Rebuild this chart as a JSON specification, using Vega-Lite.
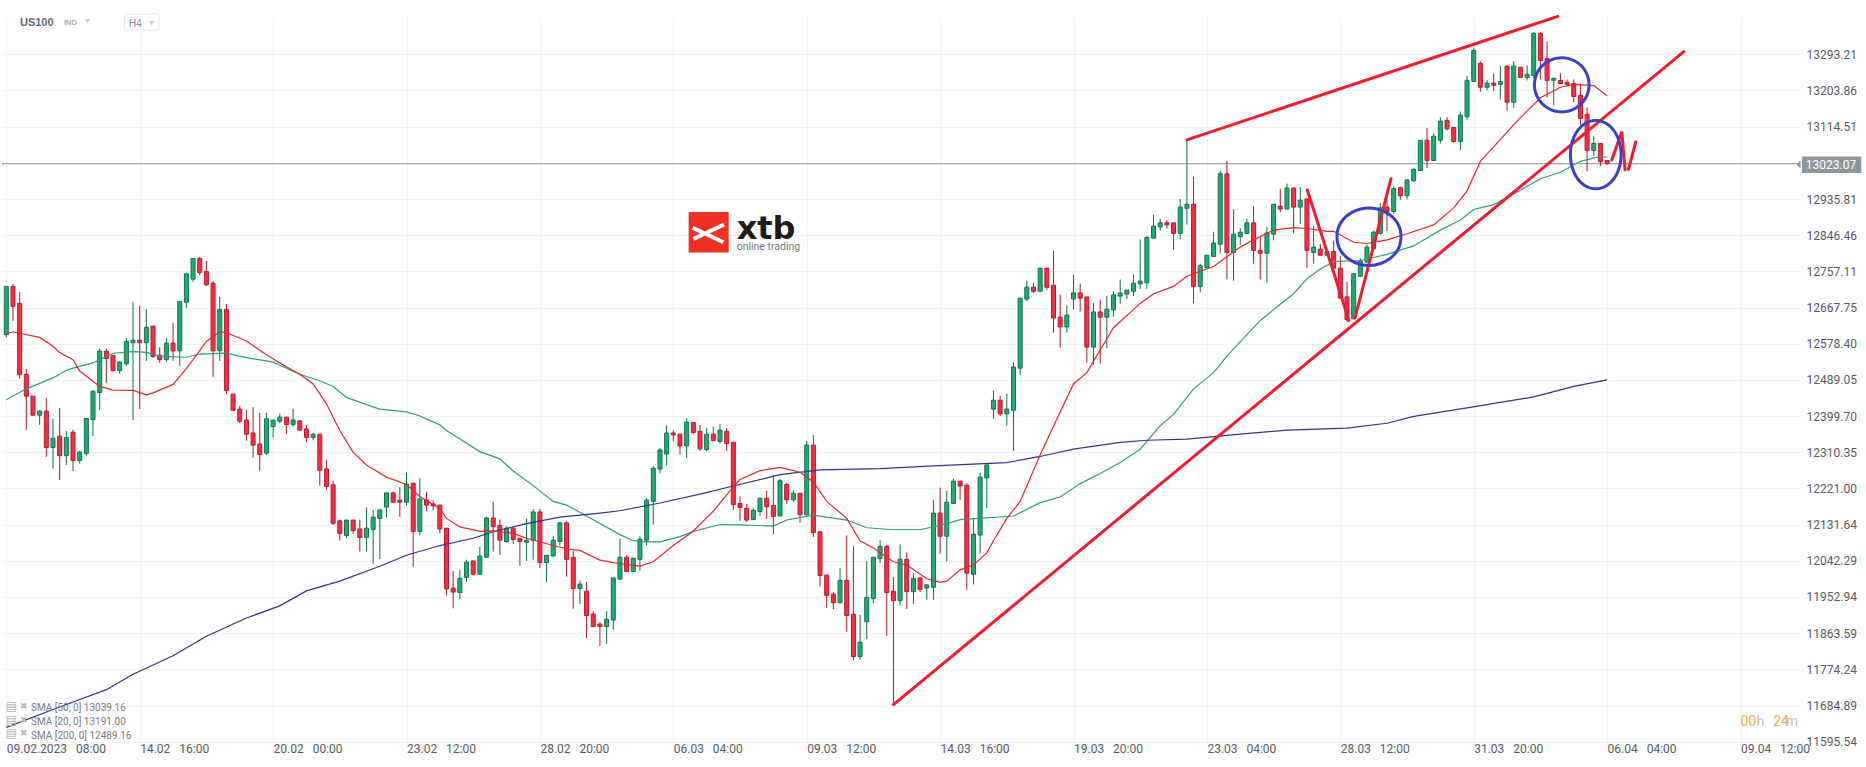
{
"$schema":"https://vega.github.io/schema/vega-lite/v6.json",
"autosize":{"type":"none"},
"width":1798,"height":723.7,
"padding":{"left":2,"right":66,"top":18,"bottom":25.3},
"background":"white",
"config":{"view":{"stroke":null},"scale":{"continuousPadding":0}},
"datasets":{
"candles":[
{"idx":0,"open":12601,"high":12720,"low":12594,"close":12720,"dir":"up"},
{"idx":1,"open":12720,"high":12726,"low":12635,"close":12671,"dir":"down"},
{"idx":2,"open":12678,"high":12706,"low":12492,"close":12502,"dir":"down"},
{"idx":3,"open":12503,"high":12516,"low":12366,"close":12449,"dir":"down"},
{"idx":4,"open":12449,"high":12449,"low":12402,"close":12402,"dir":"down"},
{"idx":5,"open":12402,"high":12414,"low":12378,"close":12412,"dir":"up"},
{"idx":6,"open":12412,"high":12444,"low":12299,"close":12322,"dir":"down"},
{"idx":7,"open":12322,"high":12393,"low":12270,"close":12345,"dir":"up"},
{"idx":8,"open":12350,"high":12420,"low":12242,"close":12302,"dir":"down"},
{"idx":9,"open":12302,"high":12363,"low":12279,"close":12347,"dir":"up"},
{"idx":10,"open":12360,"high":12366,"low":12264,"close":12290,"dir":"down"},
{"idx":11,"open":12290,"high":12314,"low":12282,"close":12311,"dir":"up"},
{"idx":12,"open":12307,"high":12394,"low":12302,"close":12394,"dir":"up"},
{"idx":13,"open":12391,"high":12463,"low":12351,"close":12461,"dir":"up"},
{"idx":14,"open":12458,"high":12566,"low":12415,"close":12560,"dir":"up"},
{"idx":15,"open":12560,"high":12566,"low":12482,"close":12542,"dir":"down"},
{"idx":16,"open":12550,"high":12550,"low":12510,"close":12512,"dir":"down"},
{"idx":17,"open":12512,"high":12536,"low":12504,"close":12533,"dir":"up"},
{"idx":18,"open":12529,"high":12592,"low":12524,"close":12584,"dir":"up"},
{"idx":19,"open":12581,"high":12682,"low":12390,"close":12587,"dir":"up"},
{"idx":20,"open":12587,"high":12672,"low":12417,"close":12581,"dir":"down"},
{"idx":21,"open":12581,"high":12664,"low":12536,"close":12619,"dir":"up"},
{"idx":22,"open":12622,"high":12622,"low":12543,"close":12547,"dir":"down"},
{"idx":23,"open":12550,"high":12570,"low":12531,"close":12539,"dir":"down"},
{"idx":24,"open":12539,"high":12592,"low":12533,"close":12580,"dir":"up"},
{"idx":25,"open":12580,"high":12630,"low":12536,"close":12561,"dir":"down"},
{"idx":26,"open":12561,"high":12683,"low":12524,"close":12683,"dir":"up"},
{"idx":27,"open":12681,"high":12754,"low":12667,"close":12751,"dir":"up"},
{"idx":28,"open":12738,"high":12789,"low":12731,"close":12789,"dir":"up"},
{"idx":29,"open":12789,"high":12793,"low":12748,"close":12754,"dir":"down"},
{"idx":30,"open":12757,"high":12783,"low":12721,"close":12724,"dir":"down"},
{"idx":31,"open":12728,"high":12733,"low":12496,"close":12561,"dir":"down"},
{"idx":32,"open":12561,"high":12694,"low":12536,"close":12663,"dir":"up"},
{"idx":33,"open":12663,"high":12677,"low":12454,"close":12463,"dir":"down"},
{"idx":34,"open":12454,"high":12454,"low":12414,"close":12414,"dir":"down"},
{"idx":35,"open":12417,"high":12425,"low":12382,"close":12387,"dir":"down"},
{"idx":36,"open":12390,"high":12416,"low":12339,"close":12355,"dir":"down"},
{"idx":37,"open":12358,"high":12422,"low":12297,"close":12328,"dir":"down"},
{"idx":38,"open":12331,"high":12408,"low":12265,"close":12305,"dir":"down"},
{"idx":39,"open":12308,"high":12408,"low":12304,"close":12393,"dir":"up"},
{"idx":40,"open":12374,"high":12390,"low":12347,"close":12390,"dir":"up"},
{"idx":41,"open":12387,"high":12406,"low":12383,"close":12397,"dir":"up"},
{"idx":42,"open":12397,"high":12397,"low":12355,"close":12379,"dir":"down"},
{"idx":43,"open":12379,"high":12418,"low":12374,"close":12390,"dir":"up"},
{"idx":44,"open":12388,"high":12388,"low":12365,"close":12365,"dir":"down"},
{"idx":45,"open":12368,"high":12378,"low":12335,"close":12347,"dir":"down"},
{"idx":46,"open":12347,"high":12358,"low":12340,"close":12355,"dir":"up"},
{"idx":47,"open":12355,"high":12355,"low":12228,"close":12266,"dir":"down"},
{"idx":48,"open":12269,"high":12292,"low":12218,"close":12226,"dir":"down"},
{"idx":49,"open":12230,"high":12240,"low":12131,"close":12135,"dir":"down"},
{"idx":50,"open":12141,"high":12144,"low":12092,"close":12110,"dir":"down"},
{"idx":51,"open":12105,"high":12143,"low":12099,"close":12143,"dir":"up"},
{"idx":52,"open":12143,"high":12143,"low":12109,"close":12117,"dir":"down"},
{"idx":53,"open":12121,"high":12144,"low":12065,"close":12100,"dir":"down"},
{"idx":54,"open":12100,"high":12174,"low":12065,"close":12123,"dir":"up"},
{"idx":55,"open":12120,"high":12168,"low":12035,"close":12150,"dir":"up"},
{"idx":56,"open":12147,"high":12168,"low":12047,"close":12168,"dir":"up"},
{"idx":57,"open":12175,"high":12210,"low":12150,"close":12210,"dir":"up"},
{"idx":58,"open":12210,"high":12213,"low":12187,"close":12187,"dir":"down"},
{"idx":59,"open":12192,"high":12225,"low":12151,"close":12187,"dir":"down"},
{"idx":60,"open":12187,"high":12260,"low":12179,"close":12232,"dir":"up"},
{"idx":61,"open":12234,"high":12234,"low":12028,"close":12115,"dir":"down"},
{"idx":62,"open":12115,"high":12247,"low":12105,"close":12195,"dir":"up"},
{"idx":63,"open":12192,"high":12212,"low":12165,"close":12180,"dir":"down"},
{"idx":64,"open":12183,"high":12192,"low":12167,"close":12178,"dir":"down"},
{"idx":65,"open":12180,"high":12180,"low":12110,"close":12121,"dir":"down"},
{"idx":66,"open":12123,"high":12123,"low":11957,"close":11973,"dir":"down"},
{"idx":67,"open":11975,"high":12017,"low":11925,"close":11965,"dir":"down"},
{"idx":68,"open":11964,"high":12019,"low":11948,"close":11999,"dir":"up"},
{"idx":69,"open":12001,"high":12045,"low":11990,"close":12039,"dir":"up"},
{"idx":70,"open":12042,"high":12042,"low":12006,"close":12009,"dir":"down"},
{"idx":71,"open":12009,"high":12077,"low":12009,"close":12054,"dir":"up"},
{"idx":72,"open":12051,"high":12151,"low":12051,"close":12148,"dir":"up"},
{"idx":73,"open":12148,"high":12188,"low":12065,"close":12127,"dir":"down"},
{"idx":74,"open":12130,"high":12144,"low":12057,"close":12093,"dir":"down"},
{"idx":75,"open":12090,"high":12127,"low":12087,"close":12123,"dir":"up"},
{"idx":76,"open":12123,"high":12123,"low":12084,"close":12095,"dir":"down"},
{"idx":77,"open":12098,"high":12098,"low":12030,"close":12090,"dir":"down"},
{"idx":78,"open":12088,"high":12146,"low":12042,"close":12093,"dir":"up"},
{"idx":79,"open":12093,"high":12170,"low":12045,"close":12163,"dir":"up"},
{"idx":80,"open":12163,"high":12170,"low":12025,"close":12038,"dir":"down"},
{"idx":81,"open":12038,"high":12056,"low":11990,"close":12056,"dir":"up"},
{"idx":82,"open":12054,"high":12104,"low":12054,"close":12093,"dir":"up"},
{"idx":83,"open":12090,"high":12138,"low":12080,"close":12136,"dir":"up"},
{"idx":84,"open":12136,"high":12140,"low":12003,"close":12046,"dir":"down"},
{"idx":85,"open":12051,"high":12067,"low":11924,"close":11974,"dir":"down"},
{"idx":86,"open":11974,"high":11993,"low":11936,"close":11985,"dir":"up"},
{"idx":87,"open":11967,"high":11990,"low":11852,"close":11907,"dir":"down"},
{"idx":88,"open":11911,"high":11918,"low":11878,"close":11880,"dir":"down"},
{"idx":89,"open":11886,"high":11891,"low":11832,"close":11880,"dir":"down"},
{"idx":90,"open":11880,"high":11918,"low":11837,"close":11898,"dir":"up"},
{"idx":91,"open":11896,"high":12000,"low":11872,"close":12000,"dir":"up"},
{"idx":92,"open":11997,"high":12097,"low":11997,"close":12051,"dir":"up"},
{"idx":93,"open":12051,"high":12056,"low":12014,"close":12016,"dir":"down"},
{"idx":94,"open":12016,"high":12049,"low":12014,"close":12049,"dir":"up"},
{"idx":95,"open":12046,"high":12103,"low":12018,"close":12096,"dir":"up"},
{"idx":96,"open":12093,"high":12197,"low":12080,"close":12192,"dir":"up"},
{"idx":97,"open":12189,"high":12276,"low":12132,"close":12271,"dir":"up"},
{"idx":98,"open":12269,"high":12321,"low":12258,"close":12316,"dir":"up"},
{"idx":99,"open":12306,"high":12377,"low":12278,"close":12358,"dir":"up"},
{"idx":100,"open":12358,"high":12365,"low":12338,"close":12353,"dir":"down"},
{"idx":101,"open":12355,"high":12355,"low":12305,"close":12326,"dir":"down"},
{"idx":102,"open":12326,"high":12395,"low":12296,"close":12385,"dir":"up"},
{"idx":103,"open":12384,"high":12384,"low":12354,"close":12359,"dir":"down"},
{"idx":104,"open":12362,"high":12378,"low":12314,"close":12319,"dir":"down"},
{"idx":105,"open":12317,"high":12370,"low":12312,"close":12355,"dir":"up"},
{"idx":106,"open":12355,"high":12373,"low":12339,"close":12339,"dir":"down"},
{"idx":107,"open":12337,"high":12380,"low":12332,"close":12365,"dir":"up"},
{"idx":108,"open":12362,"high":12370,"low":12314,"close":12332,"dir":"down"},
{"idx":109,"open":12335,"high":12335,"low":12168,"close":12181,"dir":"down"},
{"idx":110,"open":12184,"high":12202,"low":12141,"close":12174,"dir":"down"},
{"idx":111,"open":12172,"high":12183,"low":12138,"close":12143,"dir":"down"},
{"idx":112,"open":12144,"high":12172,"low":12144,"close":12167,"dir":"up"},
{"idx":113,"open":12164,"high":12197,"low":12153,"close":12197,"dir":"up"},
{"idx":114,"open":12197,"high":12215,"low":12146,"close":12176,"dir":"down"},
{"idx":115,"open":12179,"high":12254,"low":12109,"close":12152,"dir":"down"},
{"idx":116,"open":12153,"high":12244,"low":12153,"close":12240,"dir":"up"},
{"idx":117,"open":12231,"high":12235,"low":12183,"close":12193,"dir":"down"},
{"idx":118,"open":12193,"high":12217,"low":12188,"close":12209,"dir":"up"},
{"idx":119,"open":12209,"high":12209,"low":12136,"close":12156,"dir":"down"},
{"idx":120,"open":12156,"high":12338,"low":12156,"close":12328,"dir":"up"},
{"idx":121,"open":12328,"high":12353,"low":12101,"close":12112,"dir":"down"},
{"idx":122,"open":12114,"high":12114,"low":11979,"close":12006,"dir":"down"},
{"idx":123,"open":12007,"high":12007,"low":11926,"close":11957,"dir":"down"},
{"idx":124,"open":11960,"high":11965,"low":11923,"close":11939,"dir":"down"},
{"idx":125,"open":11939,"high":12024,"low":11937,"close":11994,"dir":"up"},
{"idx":126,"open":11994,"high":12105,"low":11867,"close":11907,"dir":"down"},
{"idx":127,"open":11910,"high":12078,"low":11796,"close":11806,"dir":"down"},
{"idx":128,"open":11806,"high":11909,"low":11798,"close":11841,"dir":"up"},
{"idx":129,"open":11892,"high":12041,"low":11849,"close":11952,"dir":"up"},
{"idx":130,"open":11949,"high":12051,"low":11937,"close":12051,"dir":"up"},
{"idx":131,"open":12048,"high":12093,"low":12037,"close":12078,"dir":"up"},
{"idx":132,"open":12078,"high":12081,"low":11857,"close":11964,"dir":"down"},
{"idx":133,"open":11967,"high":12002,"low":11690,"close":11944,"dir":"down"},
{"idx":134,"open":11944,"high":12083,"low":11932,"close":12046,"dir":"up"},
{"idx":135,"open":12046,"high":12063,"low":11923,"close":11966,"dir":"down"},
{"idx":136,"open":11966,"high":12012,"low":11936,"close":11999,"dir":"up"},
{"idx":137,"open":12000,"high":12000,"low":11965,"close":11972,"dir":"down"},
{"idx":138,"open":11975,"high":11983,"low":11946,"close":11983,"dir":"up"},
{"idx":139,"open":11977,"high":12193,"low":11946,"close":12160,"dir":"up"},
{"idx":140,"open":12160,"high":12223,"low":12060,"close":12103,"dir":"down"},
{"idx":141,"open":12103,"high":12215,"low":12040,"close":12187,"dir":"up"},
{"idx":142,"open":12184,"high":12245,"low":12184,"close":12239,"dir":"up"},
{"idx":143,"open":12239,"high":12239,"low":12193,"close":12227,"dir":"down"},
{"idx":144,"open":12229,"high":12234,"low":11971,"close":12012,"dir":"down"},
{"idx":145,"open":12009,"high":12148,"low":11984,"close":12108,"dir":"up"},
{"idx":146,"open":12106,"high":12259,"low":12060,"close":12249,"dir":"up"},
{"idx":147,"open":12247,"high":12279,"low":12173,"close":12279,"dir":"up"},
{"idx":148,"open":12417,"high":12462,"low":12393,"close":12439,"dir":"up"},
{"idx":149,"open":12439,"high":12450,"low":12400,"close":12405,"dir":"down"},
{"idx":150,"open":12405,"high":12455,"low":12376,"close":12417,"dir":"up"},
{"idx":151,"open":12414,"high":12533,"low":12314,"close":12521,"dir":"up"},
{"idx":152,"open":12518,"high":12691,"low":12502,"close":12691,"dir":"up"},
{"idx":153,"open":12689,"high":12734,"low":12684,"close":12718,"dir":"up"},
{"idx":154,"open":12718,"high":12729,"low":12704,"close":12708,"dir":"down"},
{"idx":155,"open":12708,"high":12765,"low":12708,"close":12765,"dir":"up"},
{"idx":156,"open":12765,"high":12765,"low":12711,"close":12718,"dir":"down"},
{"idx":157,"open":12723,"high":12808,"low":12606,"close":12642,"dir":"down"},
{"idx":158,"open":12644,"high":12700,"low":12569,"close":12620,"dir":"down"},
{"idx":159,"open":12620,"high":12672,"low":12606,"close":12649,"dir":"up"},
{"idx":160,"open":12689,"high":12749,"low":12663,"close":12704,"dir":"up"},
{"idx":161,"open":12704,"high":12727,"low":12658,"close":12691,"dir":"down"},
{"idx":162,"open":12694,"high":12694,"low":12532,"close":12570,"dir":"down"},
{"idx":163,"open":12570,"high":12679,"low":12527,"close":12657,"dir":"up"},
{"idx":164,"open":12657,"high":12687,"low":12529,"close":12644,"dir":"down"},
{"idx":165,"open":12644,"high":12697,"low":12567,"close":12664,"dir":"up"},
{"idx":166,"open":12662,"high":12707,"low":12645,"close":12699,"dir":"up"},
{"idx":167,"open":12696,"high":12737,"low":12677,"close":12704,"dir":"up"},
{"idx":168,"open":12701,"high":12711,"low":12689,"close":12711,"dir":"up"},
{"idx":169,"open":12708,"high":12749,"low":12696,"close":12728,"dir":"up"},
{"idx":170,"open":12726,"high":12836,"low":12714,"close":12733,"dir":"up"},
{"idx":171,"open":12729,"high":12844,"low":12714,"close":12841,"dir":"up"},
{"idx":172,"open":12839,"high":12897,"low":12839,"close":12869,"dir":"up"},
{"idx":173,"open":12867,"high":12887,"low":12858,"close":12877,"dir":"up"},
{"idx":174,"open":12877,"high":12884,"low":12863,"close":12872,"dir":"down"},
{"idx":175,"open":12877,"high":12877,"low":12811,"close":12851,"dir":"down"},
{"idx":176,"open":12851,"high":12936,"low":12836,"close":12916,"dir":"up"},
{"idx":177,"open":12913,"high":13082,"low":12873,"close":12923,"dir":"up"},
{"idx":178,"open":12923,"high":12991,"low":12678,"close":12720,"dir":"down"},
{"idx":179,"open":12720,"high":12776,"low":12705,"close":12771,"dir":"up"},
{"idx":180,"open":12766,"high":12797,"low":12766,"close":12797,"dir":"up"},
{"idx":181,"open":12794,"high":12855,"low":12794,"close":12827,"dir":"up"},
{"idx":182,"open":12824,"high":13005,"low":12801,"close":12998,"dir":"up"},
{"idx":183,"open":12998,"high":13030,"low":12737,"close":12804,"dir":"down"},
{"idx":184,"open":12804,"high":12911,"low":12734,"close":12849,"dir":"up"},
{"idx":185,"open":12843,"high":12864,"low":12823,"close":12854,"dir":"up"},
{"idx":186,"open":12851,"high":12887,"low":12851,"close":12877,"dir":"up"},
{"idx":187,"open":12877,"high":12918,"low":12776,"close":12809,"dir":"down"},
{"idx":188,"open":12809,"high":12844,"low":12737,"close":12802,"dir":"down"},
{"idx":189,"open":12802,"high":12867,"low":12729,"close":12852,"dir":"up"},
{"idx":190,"open":12849,"high":12923,"low":12834,"close":12923,"dir":"up"},
{"idx":191,"open":12918,"high":12961,"low":12903,"close":12911,"dir":"down"},
{"idx":192,"open":12911,"high":12974,"low":12911,"close":12963,"dir":"up"},
{"idx":193,"open":12963,"high":12963,"low":12851,"close":12916,"dir":"down"},
{"idx":194,"open":12916,"high":12965,"low":12874,"close":12933,"dir":"up"},
{"idx":195,"open":12936,"high":12936,"low":12766,"close":12809,"dir":"down"},
{"idx":196,"open":12804,"high":12869,"low":12776,"close":12817,"dir":"up"},
{"idx":197,"open":12812,"high":12825,"low":12797,"close":12797,"dir":"down"},
{"idx":198,"open":12797,"high":12806,"low":12797,"close":12806,"dir":"up"},
{"idx":199,"open":12806,"high":12833,"low":12765,"close":12765,"dir":"down"},
{"idx":200,"open":12765,"high":12796,"low":12691,"close":12691,"dir":"down"},
{"idx":201,"open":12694,"high":12731,"low":12632,"close":12638,"dir":"down"},
{"idx":202,"open":12640,"high":12753,"low":12640,"close":12751,"dir":"up"},
{"idx":203,"open":12745,"high":12790,"low":12745,"close":12783,"dir":"up"},
{"idx":204,"open":12780,"high":12823,"low":12780,"close":12817,"dir":"up"},
{"idx":205,"open":12813,"high":12858,"low":12813,"close":12854,"dir":"up"},
{"idx":206,"open":12851,"high":12926,"low":12848,"close":12914,"dir":"up"},
{"idx":207,"open":12916,"high":12934,"low":12857,"close":12905,"dir":"down"},
{"idx":208,"open":12905,"high":12967,"low":12900,"close":12962,"dir":"up"},
{"idx":209,"open":12964,"high":12966,"low":12934,"close":12944,"dir":"down"},
{"idx":210,"open":12944,"high":12985,"low":12935,"close":12983,"dir":"up"},
{"idx":211,"open":12981,"high":13012,"low":12978,"close":13009,"dir":"up"},
{"idx":212,"open":13006,"high":13081,"low":13006,"close":13081,"dir":"up"},
{"idx":213,"open":13081,"high":13111,"low":13012,"close":13031,"dir":"down"},
{"idx":214,"open":13031,"high":13098,"low":13031,"close":13091,"dir":"up"},
{"idx":215,"open":13081,"high":13138,"low":13073,"close":13128,"dir":"up"},
{"idx":216,"open":13130,"high":13138,"low":13105,"close":13109,"dir":"down"},
{"idx":217,"open":13113,"high":13113,"low":13075,"close":13078,"dir":"down"},
{"idx":218,"open":13078,"high":13152,"low":13057,"close":13143,"dir":"up"},
{"idx":219,"open":13139,"high":13240,"low":13132,"close":13229,"dir":"up"},
{"idx":220,"open":13226,"high":13310,"low":13226,"close":13303,"dir":"up"},
{"idx":221,"open":13271,"high":13276,"low":13201,"close":13212,"dir":"down"},
{"idx":222,"open":13212,"high":13229,"low":13204,"close":13222,"dir":"up"},
{"idx":223,"open":13222,"high":13246,"low":13203,"close":13217,"dir":"down"},
{"idx":224,"open":13219,"high":13264,"low":13182,"close":13226,"dir":"up"},
{"idx":225,"open":13264,"high":13266,"low":13154,"close":13175,"dir":"down"},
{"idx":226,"open":13175,"high":13276,"low":13161,"close":13264,"dir":"up"},
{"idx":227,"open":13261,"high":13261,"low":13236,"close":13236,"dir":"down"},
{"idx":228,"open":13236,"high":13266,"low":13229,"close":13244,"dir":"up"},
{"idx":229,"open":13241,"high":13348,"low":13234,"close":13345,"dir":"up"},
{"idx":230,"open":13345,"high":13348,"low":13231,"close":13278,"dir":"down"},
{"idx":231,"open":13283,"high":13325,"low":13187,"close":13229,"dir":"down"},
{"idx":232,"open":13229,"high":13236,"low":13168,"close":13234,"dir":"up"},
{"idx":233,"open":13229,"high":13246,"low":13221,"close":13221,"dir":"down"},
{"idx":234,"open":13224,"high":13231,"low":13216,"close":13219,"dir":"down"},
{"idx":235,"open":13221,"high":13231,"low":13175,"close":13189,"dir":"down"},
{"idx":236,"open":13192,"high":13221,"low":13119,"close":13135,"dir":"down"},
{"idx":237,"open":13145,"high":13162,"low":13004,"close":13056,"dir":"down"},
{"idx":238,"open":13056,"high":13091,"low":13042,"close":13073,"dir":"up"},
{"idx":239,"open":13073,"high":13073,"low":13018,"close":13028,"dir":"down"},
{"idx":240,"open":13031,"high":13031,"low":13021,"close":13023,"dir":"down"}
],
"sma":[
{"series":"SMA20","idx":0,"price":12603},{"series":"SMA20","idx":1,"price":12608},{"series":"SMA20","idx":5,"price":12594},{"series":"SMA20","idx":7,"price":12572},{"series":"SMA20","idx":8,"price":12557},{"series":"SMA20","idx":10,"price":12539},{"series":"SMA20","idx":11,"price":12511},{"series":"SMA20","idx":14,"price":12473},{"series":"SMA20","idx":16,"price":12464},{"series":"SMA20","idx":19,"price":12463},{"series":"SMA20","idx":21,"price":12452},{"series":"SMA20","idx":22,"price":12457},{"series":"SMA20","idx":25,"price":12478},{"series":"SMA20","idx":27,"price":12517},{"series":"SMA20","idx":30,"price":12584},{"series":"SMA20","idx":32,"price":12608},{"series":"SMA20","idx":33,"price":12606},{"series":"SMA20","idx":36,"price":12585},{"series":"SMA20","idx":39,"price":12551},{"series":"SMA20","idx":41,"price":12531},{"series":"SMA20","idx":44,"price":12503},{"series":"SMA20","idx":46,"price":12479},{"series":"SMA20","idx":48,"price":12430},{"series":"SMA20","idx":50,"price":12364},{"series":"SMA20","idx":52,"price":12310},{"series":"SMA20","idx":54,"price":12279},{"series":"SMA20","idx":57,"price":12249},{"series":"SMA20","idx":60,"price":12231},{"series":"SMA20","idx":62,"price":12201},{"series":"SMA20","idx":65,"price":12171},{"series":"SMA20","idx":66,"price":12147},{"series":"SMA20","idx":68,"price":12126},{"series":"SMA20","idx":71,"price":12115},{"series":"SMA20","idx":73,"price":12116},{"series":"SMA20","idx":76,"price":12110},{"series":"SMA20","idx":78,"price":12098},{"series":"SMA20","idx":82,"price":12080},{"series":"SMA20","idx":84,"price":12072},{"series":"SMA20","idx":86,"price":12068},{"series":"SMA20","idx":89,"price":12044},{"series":"SMA20","idx":92,"price":12035},{"series":"SMA20","idx":95,"price":12029},{"series":"SMA20","idx":97,"price":12040},{"series":"SMA20","idx":100,"price":12080},{"series":"SMA20","idx":103,"price":12116},{"series":"SMA20","idx":106,"price":12165},{"series":"SMA20","idx":109,"price":12225},{"series":"SMA20","idx":110,"price":12243},{"series":"SMA20","idx":113,"price":12265},{"series":"SMA20","idx":116,"price":12273},{"series":"SMA20","idx":119,"price":12261},{"series":"SMA20","idx":121,"price":12237},{"series":"SMA20","idx":123,"price":12189},{"series":"SMA20","idx":126,"price":12147},{"series":"SMA20","idx":128,"price":12092},{"series":"SMA20","idx":130,"price":12074},{"series":"SMA20","idx":133,"price":12040},{"series":"SMA20","idx":135,"price":12032},{"series":"SMA20","idx":138,"price":11998},{"series":"SMA20","idx":140,"price":11989},{"series":"SMA20","idx":141,"price":11992},{"series":"SMA20","idx":143,"price":12020},{"series":"SMA20","idx":145,"price":12032},{"series":"SMA20","idx":147,"price":12062},{"series":"SMA20","idx":148,"price":12092},{"series":"SMA20","idx":150,"price":12147},{"series":"SMA20","idx":152,"price":12189},{"series":"SMA20","idx":155,"price":12304},{"series":"SMA20","idx":158,"price":12410},{"series":"SMA20","idx":160,"price":12479},{"series":"SMA20","idx":162,"price":12507},{"series":"SMA20","idx":164,"price":12563},{"series":"SMA20","idx":166,"price":12618},{"series":"SMA20","idx":170,"price":12678},{"series":"SMA20","idx":172,"price":12702},{"series":"SMA20","idx":175,"price":12720},{"series":"SMA20","idx":177,"price":12745},{"series":"SMA20","idx":181,"price":12769},{"series":"SMA20","idx":183,"price":12793},{"series":"SMA20","idx":185,"price":12817},{"series":"SMA20","idx":187,"price":12835},{"series":"SMA20","idx":190,"price":12859},{"series":"SMA20","idx":193,"price":12865},{"series":"SMA20","idx":195,"price":12863},{"series":"SMA20","idx":198,"price":12856},{"series":"SMA20","idx":199,"price":12856},{"series":"SMA20","idx":202,"price":12829},{"series":"SMA20","idx":204,"price":12826},{"series":"SMA20","idx":207,"price":12835},{"series":"SMA20","idx":210,"price":12850},{"series":"SMA20","idx":214,"price":12872},{"series":"SMA20","idx":217,"price":12914},{"series":"SMA20","idx":219,"price":12956},{"series":"SMA20","idx":221,"price":13029},{"series":"SMA20","idx":224,"price":13083},{"series":"SMA20","idx":227,"price":13137},{"series":"SMA20","idx":230,"price":13186},{"series":"SMA20","idx":233,"price":13212},{"series":"SMA20","idx":235,"price":13219},{"series":"SMA20","idx":238,"price":13216},{"series":"SMA20","idx":240,"price":13191},
{"series":"SMA50","idx":0,"price":12440},{"series":"SMA50","idx":3,"price":12467},{"series":"SMA50","idx":7,"price":12494},{"series":"SMA50","idx":9,"price":12513},{"series":"SMA50","idx":10,"price":12518},{"series":"SMA50","idx":13,"price":12531},{"series":"SMA50","idx":16,"price":12555},{"series":"SMA50","idx":19,"price":12559},{"series":"SMA50","idx":21,"price":12557},{"series":"SMA50","idx":23,"price":12548},{"series":"SMA50","idx":27,"price":12545},{"series":"SMA50","idx":29,"price":12553},{"series":"SMA50","idx":33,"price":12555},{"series":"SMA50","idx":36,"price":12544},{"series":"SMA50","idx":40,"price":12533},{"series":"SMA50","idx":44,"price":12503},{"series":"SMA50","idx":47,"price":12487},{"series":"SMA50","idx":49,"price":12473},{"series":"SMA50","idx":51,"price":12446},{"series":"SMA50","idx":54,"price":12428},{"series":"SMA50","idx":56,"price":12417},{"series":"SMA50","idx":60,"price":12410},{"series":"SMA50","idx":62,"price":12400},{"series":"SMA50","idx":65,"price":12378},{"series":"SMA50","idx":66,"price":12364},{"series":"SMA50","idx":68,"price":12343},{"series":"SMA50","idx":71,"price":12312},{"series":"SMA50","idx":74,"price":12294},{"series":"SMA50","idx":76,"price":12264},{"series":"SMA50","idx":79,"price":12228},{"series":"SMA50","idx":82,"price":12189},{"series":"SMA50","idx":84,"price":12180},{"series":"SMA50","idx":87,"price":12153},{"series":"SMA50","idx":92,"price":12107},{"series":"SMA50","idx":94,"price":12092},{"series":"SMA50","idx":96,"price":12089},{"series":"SMA50","idx":98,"price":12089},{"series":"SMA50","idx":101,"price":12102},{"series":"SMA50","idx":103,"price":12115},{"series":"SMA50","idx":107,"price":12132},{"series":"SMA50","idx":110,"price":12131},{"series":"SMA50","idx":115,"price":12128},{"series":"SMA50","idx":117,"price":12143},{"series":"SMA50","idx":121,"price":12155},{"series":"SMA50","idx":126,"price":12143},{"series":"SMA50","idx":129,"price":12124},{"series":"SMA50","idx":133,"price":12119},{"series":"SMA50","idx":137,"price":12119},{"series":"SMA50","idx":141,"price":12134},{"series":"SMA50","idx":143,"price":12144},{"series":"SMA50","idx":151,"price":12153},{"series":"SMA50","idx":155,"price":12186},{"series":"SMA50","idx":158,"price":12200},{"series":"SMA50","idx":161,"price":12233},{"series":"SMA50","idx":164,"price":12258},{"series":"SMA50","idx":167,"price":12285},{"series":"SMA50","idx":170,"price":12318},{"series":"SMA50","idx":173,"price":12376},{"series":"SMA50","idx":175,"price":12404},{"series":"SMA50","idx":178,"price":12467},{"series":"SMA50","idx":181,"price":12507},{"series":"SMA50","idx":183,"price":12548},{"series":"SMA50","idx":185,"price":12583},{"series":"SMA50","idx":188,"price":12636},{"series":"SMA50","idx":191,"price":12676},{"series":"SMA50","idx":193,"price":12702},{"series":"SMA50","idx":195,"price":12739},{"series":"SMA50","idx":197,"price":12763},{"series":"SMA50","idx":199,"price":12781},{"series":"SMA50","idx":203,"price":12784},{"series":"SMA50","idx":207,"price":12799},{"series":"SMA50","idx":211,"price":12820},{"series":"SMA50","idx":215,"price":12859},{"series":"SMA50","idx":218,"price":12884},{"series":"SMA50","idx":220,"price":12910},{"series":"SMA50","idx":223,"price":12922},{"series":"SMA50","idx":226,"price":12948},{"series":"SMA50","idx":230,"price":12986},{"series":"SMA50","idx":233,"price":13002},{"series":"SMA50","idx":236,"price":13029},{"series":"SMA50","idx":239,"price":13041},{"series":"SMA50","idx":240,"price":13039},
{"series":"SMA200","idx":0,"price":11631},{"series":"SMA200","idx":7,"price":11675},{"series":"SMA200","idx":15,"price":11724},{"series":"SMA200","idx":19,"price":11762},{"series":"SMA200","idx":25,"price":11808},{"series":"SMA200","idx":30,"price":11856},{"series":"SMA200","idx":36,"price":11901},{"series":"SMA200","idx":41,"price":11931},{"series":"SMA200","idx":45,"price":11968},{"series":"SMA200","idx":50,"price":11992},{"series":"SMA200","idx":56,"price":12029},{"series":"SMA200","idx":60,"price":12056},{"series":"SMA200","idx":65,"price":12080},{"series":"SMA200","idx":70,"price":12098},{"series":"SMA200","idx":73,"price":12114},{"series":"SMA200","idx":78,"price":12134},{"series":"SMA200","idx":83,"price":12150},{"series":"SMA200","idx":89,"price":12160},{"series":"SMA200","idx":92,"price":12166},{"series":"SMA200","idx":98,"price":12185},{"series":"SMA200","idx":104,"price":12207},{"series":"SMA200","idx":109,"price":12227},{"series":"SMA200","idx":116,"price":12255},{"series":"SMA200","idx":122,"price":12267},{"series":"SMA200","idx":131,"price":12270},{"series":"SMA200","idx":139,"price":12277},{"series":"SMA200","idx":150,"price":12285},{"series":"SMA200","idx":155,"price":12300},{"series":"SMA200","idx":160,"price":12318},{"series":"SMA200","idx":167,"price":12335},{"series":"SMA200","idx":171,"price":12340},{"series":"SMA200","idx":177,"price":12343},{"series":"SMA200","idx":185,"price":12355},{"series":"SMA200","idx":192,"price":12365},{"series":"SMA200","idx":201,"price":12370},{"series":"SMA200","idx":207,"price":12382},{"series":"SMA200","idx":211,"price":12399},{"series":"SMA200","idx":219,"price":12420},{"series":"SMA200","idx":229,"price":12447},{"series":"SMA200","idx":235,"price":12473},{"series":"SMA200","idx":240,"price":12489}
],
"drawn":[
{"part":"lower","n":0,"idx":133,"price":11687},{"part":"lower","n":1,"idx":251.5,"price":13300},
{"part":"upper","n":0,"idx":177,"price":13082},{"part":"upper","n":1,"idx":232.6,"price":13387},
{"part":"downleg","n":0,"idx":195.05,"price":12958},{"part":"downleg","n":1,"idx":201.3,"price":12636},
{"part":"upleg","n":0,"idx":202.2,"price":12642},{"part":"upleg","n":1,"idx":207.6,"price":12986},
{"part":"zig","n":0,"idx":240.7,"price":13032},{"part":"zig","n":1,"idx":242.2,"price":13102},{"part":"zig","n":2,"idx":242.7,"price":13008},
{"part":"zag","n":0,"idx":243.2,"price":13009},{"part":"zag","n":1,"idx":244.3,"price":13077}
],
"circles":[
{"part":"a","n":0,"idx":209.1,"price":12842.5},{"part":"a","n":1,"idx":208.5,"price":12878},{"part":"a","n":2,"idx":206.7,"price":12904},{"part":"a","n":3,"idx":204.3,"price":12913.5},{"part":"a","n":4,"idx":201.9,"price":12904},{"part":"a","n":5,"idx":200.1,"price":12878},{"part":"a","n":6,"idx":199.5,"price":12842.5},{"part":"a","n":7,"idx":200.1,"price":12807},{"part":"a","n":8,"idx":201.9,"price":12781},{"part":"a","n":9,"idx":204.3,"price":12771.5},{"part":"a","n":10,"idx":206.7,"price":12781},{"part":"a","n":11,"idx":208.5,"price":12807},
{"part":"b","n":0,"idx":237.3,"price":13218},{"part":"b","n":1,"idx":236.75,"price":13251.5},{"part":"b","n":2,"idx":235.25,"price":13276},{"part":"b","n":3,"idx":233.2,"price":13285},{"part":"b","n":4,"idx":231.15,"price":13276},{"part":"b","n":5,"idx":229.65,"price":13251.5},{"part":"b","n":6,"idx":229.1,"price":13218},{"part":"b","n":7,"idx":229.65,"price":13184.5},{"part":"b","n":8,"idx":231.15,"price":13160},{"part":"b","n":9,"idx":233.2,"price":13151},{"part":"b","n":10,"idx":235.25,"price":13160},{"part":"b","n":11,"idx":236.75,"price":13184.5},
{"part":"c","n":0,"idx":242.1,"price":13045.5},{"part":"c","n":1,"idx":241.6,"price":13088},{"part":"c","n":2,"idx":240.2,"price":13119},{"part":"c","n":3,"idx":238.3,"price":13130},{"part":"c","n":4,"idx":236.4,"price":13119},{"part":"c","n":5,"idx":235,"price":13088},{"part":"c","n":6,"idx":234.5,"price":13045.5},{"part":"c","n":7,"idx":235,"price":13003},{"part":"c","n":8,"idx":236.4,"price":12972},{"part":"c","n":9,"idx":238.3,"price":12961},{"part":"c","n":10,"idx":240.2,"price":12972},{"part":"c","n":11,"idx":241.6,"price":13003}
],
"texts":[
{"kind":"symbol","idx":2.05,"price":13370,"label":"US100"},
{"kind":"market","idx":8.65,"price":13370,"label":"IND"},
{"kind":"period","idx":18.4,"price":13368,"label":"H4"},
{"kind":"legend","idx":3.7,"price":11679.5,"label":"SMA [50, 0] 13039.16"},
{"kind":"legend","idx":3.7,"price":11644.9,"label":"SMA [20, 0] 13191.00"},
{"kind":"legend","idx":3.7,"price":11610.3,"label":"SMA [200, 0] 12489.16"},
{"kind":"menu","idx":-0.1,"price":11684,"label":"▤"},
{"kind":"menu","idx":-0.1,"price":11650,"label":"▤"},
{"kind":"menu","idx":-0.1,"price":11616,"label":"▤"},
{"kind":"remove","idx":2.05,"price":11684,"label":"✖"},
{"kind":"remove","idx":2.05,"price":11650,"label":"✖"},
{"kind":"remove","idx":2.05,"price":11616,"label":"✖"},
{"kind":"timer","idx":260,"price":11644,"label":"00"},
{"kind":"timer","idx":264.9,"price":11644,"label":"24"},
{"kind":"unit","idx":262.4,"price":11644,"label":"h"},
{"kind":"unit","idx":266.8,"price":11644,"label":"m"},
{"kind":"tag","idx":269.8,"price":13021,"label":"13023.07"},
{"kind":"brand","idx":109.5,"price":12836,"label":"xtb"},
{"kind":"slogan","idx":109.5,"price":12810,"label":"online trading"}
],
"logo":[{"idx":102.3,"idx2":108.3,"price":12904,"price2":12804}],
"logoX":[
{"part":"a","n":0,"idx":102.9,"price":12865},{"part":"a","n":1,"idx":107.5,"price":12829},
{"part":"b","n":0,"idx":103,"price":12837},{"part":"b","n":1,"idx":107.6,"price":12873}
],
"button":[{"idx":17.7,"idx2":22.9,"price":13392.7,"price2":13353.2}],
"carets":[{"idx":12.2,"price":13375},{"idx":21.8,"price":13370}],
"lastPrice":[{"price":13023.07}],
"tagBox":[{"idx":269.2,"idx2":278.1,"price":13041,"price2":13000,"mid":13021,"tip":268.7}]
},
"layer":[
{"data":{"name":"candles"},"transform":[{"filter":"datum.dir=='up'"}],
 "mark":{"type":"rule","color":"#0d6e49","strokeWidth":1},
 "encoding":{
  "x":{"field":"idx","type":"quantitative","title":null,"scale":{"domain":[-0.645,268.92],"nice":false,"zero":false,"padding":0},
   "axis":{"orient":"bottom","values":[0,20,40,60,80,100,120,140,160,180,200,220,240,260],
    "labelExpr":"{'0':'09.02.2023\u00a0\u00a0\u00a008:00','20':'14.02\u00a0\u00a0\u00a016:00','40':'20.02\u00a0\u00a0\u00a000:00','60':'23.02\u00a0\u00a0\u00a012:00','80':'28.02\u00a0\u00a0\u00a020:00','100':'06.03\u00a0\u00a0\u00a004:00','120':'09.03\u00a0\u00a0\u00a012:00','140':'14.03\u00a0\u00a0\u00a016:00','160':'19.03\u00a0\u00a0\u00a020:00','180':'23.03\u00a0\u00a0\u00a004:00','200':'28.03\u00a0\u00a0\u00a012:00','220':'31.03\u00a0\u00a0\u00a020:00','240':'06.04\u00a0\u00a0\u00a004:00','260':'09.04\u00a0\u00a0\u00a012:00'}[datum.value]",
    "labelAlign":"left","labelBaseline":"top","labelFont":"Roboto","labelFontSize":12,"labelColor":"#555b60","labelPadding":2,"labelOverlap":false,"labelBound":false,"labelFlush":false,
    "ticks":false,"tickSize":0,"domain":false,"grid":true,"gridColor":"#f1f2f3","gridWidth":1}},
  "y":{"field":"high","type":"quantitative","title":null,"scale":{"domain":[11595.54,13382.9],"nice":false,"zero":false},
   "axis":{"orient":"right","values":[13293.21,13203.86,13114.51,12935.81,12846.46,12757.11,12667.75,12578.40,12489.05,12399.70,12310.35,12221.00,12131.64,12042.29,11952.94,11863.59,11774.24,11684.89,11595.54],
    "format":".2f","labelFont":"Roboto","labelFontSize":12,"labelColor":"#555b60","labelPadding":6,"labelOverlap":false,"labelBound":false,"labelFlush":false,"labelBaseline":"middle",
    "ticks":false,"tickSize":0,"domain":false,"grid":true,"gridColor":"#f1f2f3","gridWidth":1}},
  "y2":{"field":"low"}}},
{"data":{"name":"lastPrice"},"mark":{"type":"rule","color":"#83919a","strokeWidth":1},"encoding":{"y":{"field":"price","type":"quantitative","title":null}}},
{"data":{"name":"candles"},"transform":[{"filter":"datum.dir=='down'"}],
 "mark":{"type":"rule","color":"#a81a2d","strokeWidth":1},
 "encoding":{"x":{"field":"idx","type":"quantitative","title":null},"y":{"field":"high","type":"quantitative","title":null},"y2":{"field":"low"}}},
{"data":{"name":"candles"},"transform":[{"filter":"datum.dir=='up'"}],
 "mark":{"type":"bar","size":4,"fill":"#21ab72","stroke":"#0f7350","strokeWidth":1},
 "encoding":{"x":{"field":"idx","type":"quantitative","title":null},"y":{"field":"close","type":"quantitative","title":null},"y2":{"field":"open"}}},
{"data":{"name":"candles"},"transform":[{"filter":"datum.dir=='down'"}],
 "mark":{"type":"bar","size":4,"fill":"#fb2b42","stroke":"#ae1c30","strokeWidth":1},
 "encoding":{"x":{"field":"idx","type":"quantitative","title":null},"y":{"field":"open","type":"quantitative","title":null},"y2":{"field":"close"}}},
{"data":{"name":"sma"},"transform":[{"filter":"datum.series=='SMA50'"}],"mark":{"type":"line","color":"#2f9c77","strokeWidth":1.2},
 "encoding":{"x":{"field":"idx","type":"quantitative","title":null},"y":{"field":"price","type":"quantitative","title":null}}},
{"data":{"name":"sma"},"transform":[{"filter":"datum.series=='SMA200'"}],"mark":{"type":"line","color":"#31338f","strokeWidth":1.2},
 "encoding":{"x":{"field":"idx","type":"quantitative","title":null},"y":{"field":"price","type":"quantitative","title":null}}},
{"data":{"name":"sma"},"transform":[{"filter":"datum.series=='SMA20'"}],"mark":{"type":"line","color":"#e5262b","strokeWidth":1.2},
 "encoding":{"x":{"field":"idx","type":"quantitative","title":null},"y":{"field":"price","type":"quantitative","title":null}}},
{"data":{"name":"drawn"},"mark":{"type":"line","color":"#f01c2d","strokeWidth":3,"strokeCap":"round"},
 "encoding":{"x":{"field":"idx","type":"quantitative","title":null},"y":{"field":"price","type":"quantitative","title":null},"detail":{"field":"part"},"order":{"field":"n"}}},
{"data":{"name":"circles"},"mark":{"type":"line","color":"#3b3fc9","strokeWidth":3,"interpolate":"cardinal-closed"},
 "encoding":{"x":{"field":"idx","type":"quantitative","title":null},"y":{"field":"price","type":"quantitative","title":null},"detail":{"field":"part"},"order":{"field":"n"}}},
{"data":{"name":"logo"},"mark":{"type":"rect","color":"#ee3124"},
 "encoding":{"x":{"field":"idx","type":"quantitative","title":null},"x2":{"field":"idx2"},"y":{"field":"price","type":"quantitative","title":null},"y2":{"field":"price2"}}},
{"data":{"name":"logoX"},"mark":{"type":"line","color":"#ffffff","strokeWidth":4},
 "encoding":{"x":{"field":"idx","type":"quantitative","title":null},"y":{"field":"price","type":"quantitative","title":null},"detail":{"field":"part"},"order":{"field":"n"}}},
{"data":{"name":"button"},"mark":{"type":"rect","fill":"#ffffff","stroke":"#e3e6e8","strokeWidth":1,"cornerRadius":2},
 "encoding":{"x":{"field":"idx","type":"quantitative","title":null},"x2":{"field":"idx2"},"y":{"field":"price","type":"quantitative","title":null},"y2":{"field":"price2"}}},
{"data":{"name":"carets"},"mark":{"type":"point","shape":"triangle-down","filled":true,"color":"#c9ced2","size":28,"opacity":1},
 "encoding":{"x":{"field":"idx","type":"quantitative","title":null},"y":{"field":"price","type":"quantitative","title":null}}},
{"data":{"name":"tagBox"},"mark":{"type":"rect","color":"#8c979d"},
 "encoding":{"x":{"field":"idx","type":"quantitative","title":null},"x2":{"field":"idx2"},"y":{"field":"price","type":"quantitative","title":null},"y2":{"field":"price2"}}},
{"data":{"name":"tagBox"},"mark":{"type":"point","shape":"M-0.5,0L0.5,-1L0.5,1Z","filled":true,"color":"#8c979d","size":64,"opacity":1},
 "encoding":{"x":{"field":"tip","type":"quantitative","title":null},"y":{"field":"mid","type":"quantitative","title":null}}},
{"data":{"name":"texts"},"transform":[{"filter":"datum.kind=='symbol'"}],"mark":{"type":"text","align":"left","baseline":"middle","font":"Liberation Sans","fontSize":11,"fontWeight":"bold","color":"#5d6870"},
 "encoding":{"x":{"field":"idx","type":"quantitative","title":null},"y":{"field":"price","type":"quantitative","title":null},"text":{"field":"label"}}},
{"data":{"name":"texts"},"transform":[{"filter":"datum.kind=='market'"}],"mark":{"type":"text","align":"left","baseline":"middle","font":"Liberation Sans","fontSize":7.5,"fontWeight":"bold","color":"#a3adb4"},
 "encoding":{"x":{"field":"idx","type":"quantitative","title":null},"y":{"field":"price","type":"quantitative","title":null},"text":{"field":"label"}}},
{"data":{"name":"texts"},"transform":[{"filter":"datum.kind=='period'"}],"mark":{"type":"text","align":"left","baseline":"middle","font":"Liberation Sans","fontSize":10,"color":"#7f8a92"},
 "encoding":{"x":{"field":"idx","type":"quantitative","title":null},"y":{"field":"price","type":"quantitative","title":null},"text":{"field":"label"}}},
{"data":{"name":"texts"},"transform":[{"filter":"datum.kind=='legend'"}],"mark":{"type":"text","align":"left","baseline":"middle","font":"Roboto","fontSize":10,"color":"#777b7f"},
 "encoding":{"x":{"field":"idx","type":"quantitative","title":null},"y":{"field":"price","type":"quantitative","title":null},"text":{"field":"label"}}},
{"data":{"name":"texts"},"transform":[{"filter":"datum.kind=='menu'"}],"mark":{"type":"text","align":"left","baseline":"middle","font":"DejaVu Sans","fontSize":12,"color":"#b4b7ba"},
 "encoding":{"x":{"field":"idx","type":"quantitative","title":null},"y":{"field":"price","type":"quantitative","title":null},"text":{"field":"label"}}},
{"data":{"name":"texts"},"transform":[{"filter":"datum.kind=='remove'"}],"mark":{"type":"text","align":"left","baseline":"middle","font":"DejaVu Sans","fontSize":9,"color":"#b4b7ba"},
 "encoding":{"x":{"field":"idx","type":"quantitative","title":null},"y":{"field":"price","type":"quantitative","title":null},"text":{"field":"label"}}},
{"data":{"name":"texts"},"transform":[{"filter":"datum.kind=='timer'"}],"mark":{"type":"text","align":"left","baseline":"middle","font":"Roboto","fontSize":14,"color":"#f7a836"},
 "encoding":{"x":{"field":"idx","type":"quantitative","title":null},"y":{"field":"price","type":"quantitative","title":null},"text":{"field":"label"}}},
{"data":{"name":"texts"},"transform":[{"filter":"datum.kind=='unit'"}],"mark":{"type":"text","align":"left","baseline":"middle","font":"Roboto","fontSize":14,"color":"#b9bdc0"},
 "encoding":{"x":{"field":"idx","type":"quantitative","title":null},"y":{"field":"price","type":"quantitative","title":null},"text":{"field":"label"}}},
{"data":{"name":"texts"},"transform":[{"filter":"datum.kind=='tag'"}],"mark":{"type":"text","align":"left","baseline":"middle","font":"Roboto","fontSize":12,"color":"#ffffff"},
 "encoding":{"x":{"field":"idx","type":"quantitative","title":null},"y":{"field":"price","type":"quantitative","title":null},"text":{"field":"label"}}},
{"data":{"name":"texts"},"transform":[{"filter":"datum.kind=='brand'"}],"mark":{"type":"text","align":"left","baseline":"alphabetic","font":"DejaVu Sans","fontSize":32,"fontWeight":"bold","color":"#1c1c1c"},
 "encoding":{"x":{"field":"idx","type":"quantitative","title":null},"y":{"field":"price","type":"quantitative","title":null},"text":{"field":"label"}}},
{"data":{"name":"texts"},"transform":[{"filter":"datum.kind=='slogan'"}],"mark":{"type":"text","align":"left","baseline":"alphabetic","font":"Roboto","fontSize":10.5,"color":"#75787b"},
 "encoding":{"x":{"field":"idx","type":"quantitative","title":null},"y":{"field":"price","type":"quantitative","title":null},"text":{"field":"label"}}}
]
}
